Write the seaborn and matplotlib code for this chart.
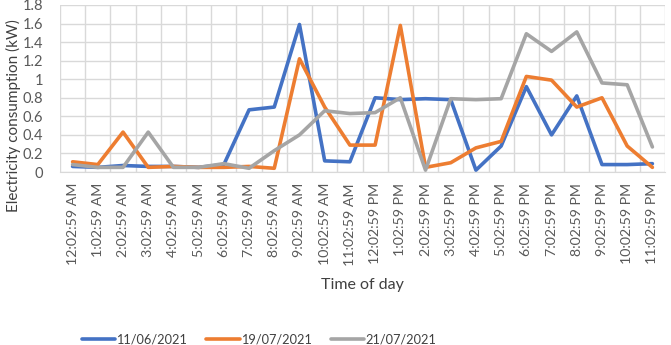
import matplotlib
matplotlib.use("Agg")
import matplotlib.pyplot as plt
from matplotlib.ticker import FixedLocator
import seaborn as sns
import pandas as pd

times = ["12:02:59 AM", "1:02:59 AM", "2:02:59 AM", "3:02:59 AM", "4:02:59 AM",
         "5:02:59 AM", "6:02:59 AM", "7:02:59 AM", "8:02:59 AM", "9:02:59 AM",
         "10:02:59 AM", "11:02:59 AM", "12:02:59 PM", "1:02:59 PM", "2:02:59 PM",
         "3:02:59 PM", "4:02:59 PM", "5:02:59 PM", "6:02:59 PM", "7:02:59 PM",
         "8:02:59 PM", "9:02:59 PM", "10:02:59 PM", "11:02:59 PM"]

day_1106 = [0.06, 0.05, 0.07, 0.06, 0.06, 0.05, 0.08, 0.67, 0.70, 1.59, 0.12, 0.11,
            0.80, 0.78, 0.79, 0.78, 0.02, 0.28, 0.92, 0.40, 0.82, 0.08, 0.08, 0.09]
day_1907 = [0.11, 0.08, 0.43, 0.05, 0.06, 0.05, 0.05, 0.06, 0.04, 1.22, 0.70, 0.29,
            0.29, 1.58, 0.05, 0.10, 0.26, 0.33, 1.03, 0.99, 0.70, 0.80, 0.28, 0.05]
day_2107 = [0.08, 0.05, 0.05, 0.43, 0.05, 0.05, 0.09, 0.04, 0.23, 0.40, 0.66, 0.63,
            0.64, 0.80, 0.02, 0.79, 0.78, 0.79, 1.49, 1.30, 1.51, 0.96, 0.94, 0.27]

dates = ["11/06/2021", "19/07/2021", "21/07/2021"]
colors = ["#4472C4", "#ED7D31", "#A5A5A5"]
y_ticks = [0, 0.2, 0.4, 0.6, 0.8, 1.0, 1.2, 1.4, 1.6, 1.8]
y_labels = ["0", "0.2", "0.4", "0.6", "0.8", "1", "1.2", "1.4", "1.6", "1.8"]

rows = []
for d, vals in zip(dates, [day_1106, day_1907, day_2107]):
    for i, v in enumerate(vals):
        rows.append({"idx": i, "kW": v, "date": d})
df = pd.DataFrame(rows)

sns.set_style("white")
plt.rcParams["font.family"] = ["Lato", "DejaVu Sans"]

fig = plt.figure(figsize=(6.71, 3.45), dpi=100)
ax = fig.add_axes([60 / 671, 1 - 172 / 345, 605 / 671, 167 / 345])

sns.lineplot(data=df, x="idx", y="kW", hue="date", palette=colors,
             linewidth=2.6, ax=ax, legend=True, zorder=3)

ax.set_xlim(-0.5, len(times) - 0.5)
ax.set_ylim(0, 1.8)
ax.yaxis.set_major_locator(FixedLocator(y_ticks))
ax.set_yticklabels(y_labels)
ax.xaxis.set_major_locator(FixedLocator(range(len(times))))
ax.set_xticklabels(times, rotation=90)
ax.xaxis.set_minor_locator(FixedLocator([i - 0.5 for i in range(len(times) + 1)]))
ax.grid(axis="y", which="major", color="#D9D9D9", linewidth=1)
ax.grid(axis="x", which="minor", color="#D9D9D9", linewidth=1)
ax.tick_params(axis="both", which="both", length=0, colors="#595959")
ax.tick_params(axis="x", labelsize=10.2, pad=8)
ax.tick_params(axis="y", labelsize=10.5, pad=12)
for s in ["top", "right", "left"]:
    ax.spines[s].set_visible(False)
ax.spines["bottom"].set_color("#D9D9D9")

ax.set_xlabel("Time of day", fontsize=11.5, color="#404040", labelpad=9)
ax.set_ylabel("Electricity consumption (kW)", fontsize=11, color="#404040")
ax.yaxis.set_label_coords(-0.064, 0.34)

handles, labels = ax.get_legend_handles_labels()
ax.legend(handles, labels, loc="lower center", bbox_to_anchor=(0.386, -0.035),
          bbox_transform=fig.transFigure, ncol=3, frameon=False, fontsize=9.2,
          handlelength=2.6, handletextpad=0.1, columnspacing=1.5,
          labelcolor="#404040")

fig.savefig("out.png", dpi=100)
